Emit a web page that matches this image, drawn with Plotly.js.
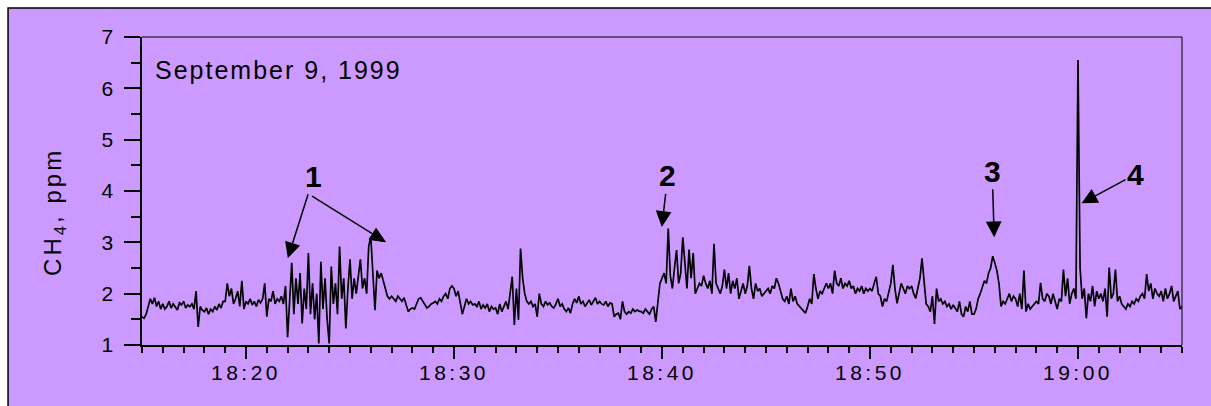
<!DOCTYPE html>
<html>
<head>
<meta charset="utf-8">
<script src="https://cdn.plot.ly/plotly-3.0.1.min.js"></script>
<style>
  html, body { margin:0; padding:0; background:#fff; }
  .xtick text, .ytick text { letter-spacing: 3.5px; }
  .annotation[data-index="0"] .annotation-text { letter-spacing: 2px; }
  .annotation[data-index="1"] .annotation-text { letter-spacing: 3px; }
</style>
</head>
<body>
<div id="chart" style="width:1211px;height:406px;"></div>
<script>
// Sampling: one value every 6 seconds starting 18:15:00, Sept 9 1999
const START = '1999-09-09T18:15:00Z';
const STEP_SEC = 6;

// CH4 (ppm), 10 values per minute
const ch4_1815_1824 = [
  1.55,1.52,1.6,1.75,1.9,1.8,1.92,1.75,1.85,1.7,
  1.8,1.7,1.75,1.85,1.72,1.8,1.75,1.68,1.82,1.78,
  1.85,1.72,1.78,1.75,1.8,1.7,2.05,1.35,1.75,1.68,
  1.65,1.72,1.6,1.7,1.65,1.75,1.68,1.8,1.72,1.85,
  1.85,2.2,1.95,2.1,1.8,1.9,2.05,1.75,2.25,1.7,
  1.85,1.8,1.9,1.78,1.85,1.75,1.88,1.82,1.9,2.2,
  1.55,1.9,1.85,2.05,1.8,1.9,1.85,1.95,1.8,2.15,
  1.15,2.0,2.6,1.6,2.3,1.8,2.4,1.42,2.1,1.7,
  2.79,1.6,2.2,1.5,2.0,1.03,2.62,1.7,2.3,1.5,
  1.03,2.53,1.8,2.2,1.6,2.92,1.9,2.3,1.32,2.1
];
const ch4_1825_1834 = [
  2.67,1.9,2.3,2.0,2.4,2.67,2.1,2.3,2.0,2.92,
  3.11,2.3,1.68,2.45,2.3,2.4,2.25,2.1,1.95,1.9,
  1.95,1.9,1.85,1.95,1.9,1.85,1.92,1.8,1.65,1.7,
  1.72,1.7,1.8,1.9,1.92,1.85,1.8,1.72,1.75,1.8,
  1.82,1.85,1.8,1.9,1.85,1.95,2.0,1.9,2.1,2.15,
  2.1,1.95,2.05,1.85,1.6,1.75,1.9,1.8,1.85,1.78,
  1.8,1.75,1.85,1.7,1.78,1.72,1.8,1.65,1.75,1.7,
  1.72,1.6,1.8,1.65,1.75,1.85,1.7,2.0,2.33,1.39,
  2.1,1.49,2.88,2.3,2.0,1.85,1.8,1.85,1.75,1.8,
  1.55,2.0,1.8,1.75,1.85,1.78,1.82,1.75,1.72,1.8
];
const ch4_1835_1844 = [
  1.9,1.75,1.8,1.7,1.65,1.72,1.62,1.8,1.9,1.82,
  1.95,1.8,1.85,1.75,1.82,1.88,1.78,1.85,1.92,1.8,
  1.85,1.8,1.78,1.85,1.75,1.82,1.8,1.55,1.6,1.62,
  1.5,1.85,1.65,1.6,1.65,1.62,1.7,1.65,1.68,1.66,
  1.65,1.62,1.7,1.65,1.6,1.7,1.75,1.45,1.9,2.2,
  2.3,2.4,2.2,3.27,2.35,2.1,2.5,2.85,2.2,2.4,
  3.1,2.5,2.1,2.86,2.3,2.79,2.0,2.1,2.2,2.15,
  2.35,2.2,2.1,2.25,2.0,2.97,2.2,2.1,2.0,2.15,
  2.47,2.1,2.4,2.0,2.25,2.1,2.3,1.9,2.05,2.2,
  2.0,2.15,2.54,2.1,1.9,2.2,2.05,2.1,1.95,2.0
];
const ch4_1845_1854 = [
  2.05,2.1,2.0,2.15,2.1,2.3,2.2,2.05,1.9,1.85,
  1.95,1.8,2.1,1.85,1.95,1.8,1.75,1.7,1.65,1.62,
  1.75,1.9,1.8,2.38,2.1,1.9,2.05,2.0,2.1,2.2,
  2.1,2.2,2.0,2.45,2.2,2.15,2.3,2.1,2.2,2.15,
  2.25,2.1,2.15,2.0,2.1,2.05,2.15,2.0,2.1,2.05,
  2.1,2.05,2.2,2.33,2.0,1.95,1.75,1.9,1.85,2.0,
  2.2,2.56,2.1,1.81,2.0,2.2,2.1,2.0,2.15,2.1,
  2.15,2.0,1.91,2.1,2.3,2.69,2.2,1.8,1.75,1.65,
  1.95,1.41,2.1,1.85,1.9,1.8,1.85,1.75,1.8,1.7,
  1.78,1.7,1.65,1.85,1.6,1.55,1.75,1.65,1.85,1.6
];
const ch4_1855_1905 = [
  1.6,1.7,1.9,2.0,2.15,2.25,2.2,2.4,2.5,2.73,
  2.6,2.45,2.2,1.75,1.85,1.8,1.9,2.0,1.85,1.95,
  1.9,1.75,2.0,1.7,2.45,1.65,1.8,1.7,1.75,1.8,
  1.85,1.8,2.21,1.9,1.85,2.0,1.95,1.8,2.0,1.85,
  1.7,1.9,1.85,2.47,1.95,2.3,1.8,2.0,2.1,1.9,
  6.55,2.5,1.9,2.1,1.52,2.0,1.85,2.15,1.75,2.05,
  1.9,2.0,1.85,2.1,1.55,2.51,1.9,2.0,2.47,1.85,
  1.95,1.8,1.75,1.7,1.8,1.75,1.85,1.8,1.9,1.85,
  1.95,2.0,1.9,2.38,2.05,2.2,1.9,2.1,2.0,1.95,
  2.05,1.85,2.1,1.9,2.0,2.15,1.85,1.95,2.05,1.7,
  1.75
];

const titleText = 'September 9, 1999';
const yTitleText = 'CH<sub>4</sub>, ppm';
const markerLabels = ['1', '2', '3', '4'];

const ch4 = [].concat(ch4_1815_1824, ch4_1825_1834, ch4_1835_1844, ch4_1845_1854, ch4_1855_1905);

function ts(min) {
  const d = new Date(Date.parse(START) + Math.round(min * 60000));
  return d.toISOString().replace('T', ' ').replace('Z', '');
}
const times = ch4.map((_, i) => ts(i * STEP_SEC / 60));

const BG = '#CC99FF';
const FONT = 'Arial, "Liberation Sans", Helvetica, sans-serif';

const trace = {
  x: times, y: ch4, type: 'scatter', mode: 'lines',
  line: { color: '#000000', width: 1.7 },
  hoverinfo: 'skip'
};

const ARROW = { arrowhead: 2, arrowsize: 2.1, arrowwidth: 1.5, arrowcolor: '#000', standoff: 0 };
// label with its arrow: (tMin,val) is the arrow tip, (ax,ay) the label offset in px
function labelArrow(tMin, val, ax, ay, txt) {
  return Object.assign({ x: ts(tMin), y: val, xref: 'x', yref: 'y', text: '<b>' + txt + '</b>',
    showarrow: true, ax: ax, ay: ay, xanchor: 'center', yanchor: 'middle',
    font: { family: FONT, size: 30, color: '#000' } }, ARROW);
}

// second arrow of label "1": tip anchored in data coordinates, drawn in pixels from that tip
const tipB = { t: 11.70, v: 3.01 };
const tailB = [-73.3, 45.7];          // pixel offset of the tail (y up)
const ux = -tailB[0], uy = -tailB[1];
const ul = Math.hypot(ux, uy);
const u = [ux / ul, uy / ul], n = [-u[1], u[0]];
const HL = 15, HW = 6.5;
const base = [-HL * u[0], -HL * u[1]];
const headPath = 'M0,0 L' + (base[0] + HW * n[0]).toFixed(2) + ',' + (base[1] + HW * n[1]).toFixed(2) +
  ' L' + (base[0] - HW * n[0]).toFixed(2) + ',' + (base[1] - HW * n[1]).toFixed(2) + ' Z';

const layout = {
  width: 1211, height: 406,
  margin: { l: 142, r: 29, t: 37, b: 61, pad: 0 },
  paper_bgcolor: '#ffffff', plot_bgcolor: 'rgba(0,0,0,0)',
  showlegend: false,
  font: { family: FONT, color: '#000', size: 21 },
  xaxis: {
    type: 'date', range: [ts(0), ts(50)], tickformat: '%H:%M',
    tick0: ts(5), dtick: 600000, ticks: 'outside', ticklen: 12, tickwidth: 2, tickcolor: '#000',
    showline: true, linewidth: 2, linecolor: '#000', showgrid: false, zeroline: false,
    minor: { dtick: 60000, tick0: ts(0), ticks: 'outside', ticklen: 6, tickwidth: 2, tickcolor: '#000', showgrid: false },
    tickfont: { family: FONT, size: 21, color: '#000' }, ticklabelstandoff: -4, fixedrange: true
  },
  yaxis: {
    range: [1, 7], tick0: 0, dtick: 1, ticks: 'outside', ticklen: 16, tickwidth: 2, tickcolor: '#000',
    showline: true, linewidth: 2, linecolor: '#000', showgrid: false, zeroline: false,
    minor: { dtick: 0.5, ticks: 'outside', ticklen: 9, tickwidth: 2, tickcolor: '#000', showgrid: false },
    tickfont: { family: FONT, size: 21, color: '#000' }, ticklabelstandoff: 3, fixedrange: true
  },
  shapes: [
    { type: 'rect', xref: 'paper', yref: 'paper', x0: -0.1288, x1: 1.05, y0: -0.3, y1: 1.0942,
      fillcolor: BG, line: { color: '#000', width: 1.5 }, layer: 'below' },
    { type: 'line', xref: 'paper', yref: 'paper', x0: 0, x1: 1, y0: 1, y1: 1, line: { color: '#000', width: 1 } },
    { type: 'line', xref: 'paper', yref: 'paper', x0: 1, x1: 1, y0: 0, y1: 1, line: { color: '#000', width: 1 } },
    { type: 'line', xref: 'x', yref: 'y', xsizemode: 'pixel', ysizemode: 'pixel',
      xanchor: ts(tipB.t), yanchor: tipB.v,
      x0: tailB[0], y0: tailB[1], x1: base[0], y1: base[1], line: { color: '#000', width: 1.5 } },
    { type: 'path', xref: 'x', yref: 'y', xsizemode: 'pixel', ysizemode: 'pixel',
      xanchor: ts(tipB.t), yanchor: tipB.v, path: headPath,
      fillcolor: '#000', line: { color: '#000', width: 1 } }
  ],
  annotations: [
    { xref: 'paper', yref: 'paper', x: 0.027, y: 0.893, xanchor: 'left', yanchor: 'middle',
      text: titleText, showarrow: false, font: { family: FONT, size: 25, color: '#000' } },
    { xref: 'paper', yref: 'paper', x: -0.0837, y: 0.432, xanchor: 'center', yanchor: 'middle',
      text: yTitleText, textangle: -90, showarrow: false, font: { family: FONT, size: 24, color: '#000' } },
    labelArrow(7.01, 2.69, 26, -82, markerLabels[0]),
    labelArrow(24.99, 3.30, 6, -51, markerLabels[1]),
    labelArrow(40.97, 3.10, -2, -66, markerLabels[2]),
    labelArrow(45.17, 3.76, 54, -29, markerLabels[3])
  ]
};

Plotly.newPlot('chart', [trace], layout, { displayModeBar: false, staticPlot: true });
</script>
</body>
</html>
